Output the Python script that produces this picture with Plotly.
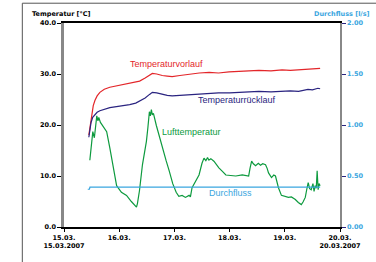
import plotly.graph_objects as go

# time in days since 15.03.2007 00:00
vor_t = [0.45, 0.47, 0.50, 0.53, 0.56, 0.60, 0.65, 0.73, 0.83, 0.95, 1.10, 1.25, 1.37, 1.47, 1.55, 1.60, 1.68, 1.78, 1.87, 1.96, 2.10, 2.27, 2.45, 2.63, 2.80, 2.99, 3.20, 3.40, 3.53, 3.75, 3.95, 4.10, 4.25, 4.40, 4.50, 4.60, 4.64]
vor_v = [18.0, 19.5, 22.0, 23.8, 24.8, 25.7, 26.4, 27.0, 27.4, 27.7, 28.0, 28.3, 28.6, 29.2, 29.8, 30.1, 30.0, 29.7, 29.6, 29.5, 29.7, 30.0, 30.2, 30.3, 30.2, 30.4, 30.5, 30.6, 30.7, 30.6, 30.8, 30.7, 30.8, 30.9, 31.0, 31.1, 31.1]

rueck_t = [0.45, 0.47, 0.49, 0.52, 0.56, 0.60, 0.65, 0.73, 0.83, 0.95, 1.10, 1.19, 1.30, 1.37, 1.47, 1.55, 1.60, 1.68, 1.78, 1.87, 1.96, 2.10, 2.30, 2.45, 2.63, 2.80, 3.00, 3.20, 3.40, 3.53, 3.75, 3.95, 4.10, 4.25, 4.35, 4.42, 4.50, 4.60, 4.64]
rueck_v = [17.6, 19.0, 20.5, 21.5, 22.0, 22.5, 22.8, 23.1, 23.4, 23.6, 23.8, 24.0, 24.3, 24.7, 25.3, 26.0, 26.4, 26.3, 26.0, 25.8, 25.7, 25.8, 25.9, 26.0, 26.2, 26.3, 26.3, 26.4, 26.5, 26.6, 26.5, 26.6, 26.7, 26.6, 26.8, 27.0, 26.9, 27.2, 27.1]

luft_t = [0.468, 0.50, 0.522, 0.55, 0.575, 0.594, 0.615, 0.63, 0.66, 0.70, 0.773, 0.83, 0.881, 0.953, 1.04, 1.133, 1.22, 1.313, 1.33, 1.367, 1.421, 1.493, 1.52, 1.547, 1.565, 1.583, 1.60, 1.62, 1.673, 1.72, 1.781, 1.85, 1.906, 1.97, 2.032, 2.08, 2.14, 2.20, 2.266, 2.29, 2.32, 2.38, 2.446, 2.50, 2.536, 2.57, 2.60, 2.626, 2.66, 2.716, 2.76, 2.806, 2.87, 2.932, 3.02, 3.112, 3.23, 3.345, 3.37, 3.399, 3.43, 3.471, 3.52, 3.56, 3.60, 3.651, 3.68, 3.705, 3.759, 3.80, 3.831, 3.885, 3.939, 4.00, 4.065, 4.12, 4.191, 4.245, 4.299, 4.33, 4.371, 4.40, 4.424, 4.45, 4.478, 4.51, 4.53, 4.55, 4.57, 4.586, 4.604, 4.62, 4.64]
luft_v = [13.1, 16.5, 18.7, 17.5, 20.5, 21.8, 20.8, 21.5, 20.5, 19.8, 18.7, 15.5, 12.2, 8.1, 6.8, 6.2, 5.0, 3.9, 4.6, 7.1, 12.2, 16.8, 19.5, 22.6, 21.8, 23.0, 22.0, 22.3, 19.9, 18.0, 15.4, 13.0, 11.0, 8.5, 6.8, 6.0, 6.2, 5.8, 6.2, 5.9, 7.7, 9.0, 10.2, 12.5, 13.5, 13.0, 13.6, 13.1, 13.4, 12.9, 12.2, 11.6, 10.9, 10.2, 10.1, 10.0, 10.2, 10.0, 11.5, 12.9, 12.4, 12.0, 12.5, 12.1, 12.4, 12.2, 11.5, 10.6, 9.7, 10.2, 10.0, 7.7, 6.2, 6.0, 5.8, 5.9, 5.4, 4.8, 4.4, 4.9, 5.8, 7.5, 8.7, 7.5, 7.3, 8.5, 7.0, 8.1, 7.6, 11.0, 7.3, 8.5, 8.1]

fluss_t = [0.43, 0.46, 0.47, 1.0, 2.0, 3.0, 4.0, 4.64]
fluss_v = [0.37, 0.37, 0.39, 0.39, 0.39, 0.39, 0.39, 0.39]

x_ticks = [0, 1, 2, 3, 4, 5]
x_labels = ["15.03.<br>15.03.2007", "16.03.", "17.03.", "18.03.", "19.03.", "20.03.<br>20.03.2007"]
y_ticks = [0, 10, 20, 30, 40]
y2_ticks = [0, 0.5, 1.0, 1.5, 2.0]

RED = "#e3262a"
NAVY = "#2a2480"
GREEN = "#0d9a3e"
CYAN = "#3aa6e0"

fig = go.Figure()
fig.add_trace(go.Scatter(x=vor_t, y=vor_v, mode="lines", line=dict(color=RED, width=1.2), showlegend=False))
fig.add_trace(go.Scatter(x=rueck_t, y=rueck_v, mode="lines", line=dict(color=NAVY, width=1.2), showlegend=False))
fig.add_trace(go.Scatter(x=luft_t, y=luft_v, mode="lines", line=dict(color=GREEN, width=1.2), showlegend=False))
fig.add_trace(go.Scatter(x=fluss_t, y=fluss_v, mode="lines", line=dict(color=CYAN, width=1.2), showlegend=False, yaxis="y2"))

lab_font = "Liberation Sans, Arial, sans-serif"
fig.add_annotation(x=1.85, y=31.9, text="Temperaturvorlauf", showarrow=False, font=dict(family=lab_font, size=9, color=RED))
fig.add_annotation(x=3.13, y=24.9, text="Temperaturrücklauf", showarrow=False, font=dict(family=lab_font, size=9, color=NAVY))
fig.add_annotation(x=2.31, y=18.7, text="Lufttemperatur", showarrow=False, font=dict(family=lab_font, size=9, color=GREEN))
fig.add_annotation(x=3.02, y=6.6, text="Durchfluss", showarrow=False, font=dict(family=lab_font, size=9, color=CYAN))

tick_font = dict(family="DejaVu Sans, Verdana, sans-serif", size=6.5, color="black", weight="bold")
fig.add_annotation(xref="paper", yref="paper", x=-0.122, y=1.043, xanchor="left", yanchor="middle",
                   text="Temperatur [°C]", showarrow=False, font=dict(family="DejaVu Sans, Verdana, sans-serif", size=6.5, color="black", weight="bold"))
fig.add_annotation(xref="paper", yref="paper", x=1.115, y=1.043, xanchor="right", yanchor="middle",
                   text="Durchfluss [l/s]", showarrow=False, font=dict(family="DejaVu Sans, Verdana, sans-serif", size=6.5, color=CYAN, weight="bold"))

# outer frame
fig.add_shape(type="rect", xref="paper", yref="paper", x0=-0.151, y0=-0.25, x1=1.2, y1=1.097,
              line=dict(color="#555555", width=1), fillcolor="rgba(0,0,0,0)", layer="below")

fig.update_layout(
    width=376, height=262,
    margin=dict(l=64, r=34, t=23, b=31),
    paper_bgcolor="white", plot_bgcolor="white",
    xaxis=dict(range=[0, 5], tickvals=x_ticks, ticktext=x_labels, showgrid=False, zeroline=False,
               showline=True, linecolor="black", linewidth=1.5, mirror=True,
               ticks="outside", ticklen=3, tickcolor="black", tickfont=tick_font),
    yaxis=dict(range=[0, 40], tickvals=y_ticks, tickformat=".1f", showgrid=False, zeroline=False,
               showline=True, linecolor="#888888", linewidth=2.5,
               ticks="outside", ticklen=4, tickcolor="black", tickfont=tick_font),
    yaxis2=dict(range=[0, 2], tickvals=y2_ticks, tickformat=".2f", overlaying="y", side="right",
                showgrid=False, zeroline=False, showline=True, linecolor="#888888", linewidth=1.5,
                ticks="outside", ticklen=4, tickcolor=NAVY,
                tickfont=dict(family="DejaVu Sans, Verdana, sans-serif", size=6.5, color=CYAN, weight="bold")),
)

fig.write_html("out.html", config={"displayModeBar": False},
               post_script="document.body.style.margin='0';document.body.style.overflow='hidden';")
